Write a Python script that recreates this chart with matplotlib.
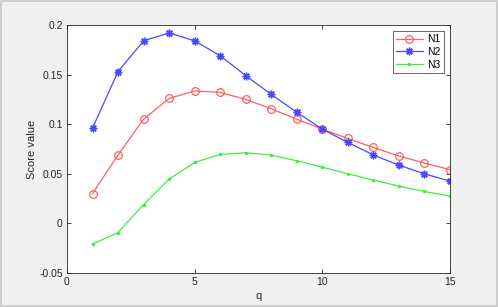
import matplotlib
matplotlib.use("Agg")
import matplotlib.pyplot as plt
from matplotlib.patches import Rectangle

plt.rcParams["font.family"] = ["Liberation Sans", "DejaVu Sans"]

q = list(range(1, 16))
n1 = [0.030, 0.069, 0.105, 0.126, 0.1335, 0.132, 0.125, 0.1155, 0.105, 0.095,
      0.0856, 0.0765, 0.068, 0.0608, 0.0543]
n2 = [0.096, 0.153, 0.184, 0.192, 0.184, 0.169, 0.149, 0.130, 0.112, 0.095,
      0.0816, 0.069, 0.0587, 0.050, 0.0426]
n3 = [-0.0209, -0.0092, 0.019, 0.0446, 0.0614, 0.0695, 0.0712, 0.0689, 0.0631,
      0.0567, 0.050, 0.0437, 0.0376, 0.0322, 0.0275]

fig = plt.figure(figsize=(4.98, 3.07), dpi=100, facecolor="#f0f0f0")
fig.patches.append(Rectangle((0.003, 0.003), 0.994, 0.994, transform=fig.transFigure,
                             fill=False, edgecolor="#c8c8c8", linewidth=1.2))
ax = fig.add_axes([0.1345, 0.1107, 0.769, 0.808])

ax.plot(q, n1, color="#ff6060", marker="o", markersize=5.5, markerfacecolor="none",
        markeredgewidth=0.9, linewidth=0.9, label="N1")
ax.plot(q, n2, color="#4848ff", marker=(8, 2, 0), markersize=5.5,
        markeredgewidth=1.0, linewidth=0.9, label="N2")
ax.plot(q, n3, color="#40ee40", marker=".", markersize=3, linewidth=0.9, label="N3")

ax.set_xlim(0, 15)
ax.set_ylim(-0.05, 0.2)
ax.set_xticks([0, 5, 10, 15])
ax.set_yticks([-0.05, 0, 0.05, 0.1, 0.15, 0.2])
ax.set_yticklabels(["-0.05", "0", "0.05", "0.1", "0.15", "0.2"])
ax.tick_params(direction="in", top=True, right=True, labelsize=7.5,
               colors="#262626", length=3, width=0.6, pad=3)
for s in ax.spines.values():
    s.set_color("#262626")
    s.set_linewidth(0.6)
ax.set_xlabel("q", fontsize=8, color="#262626", labelpad=3)
ax.set_ylabel("Score value", fontsize=8, color="#262626", labelpad=1.5)

leg = ax.legend(loc="upper right", fontsize=7.5, frameon=True, fancybox=False,
                edgecolor="#262626", handlelength=2.6, borderpad=0.3,
                labelspacing=0.25, borderaxespad=0.6, handletextpad=0.4)
leg.get_frame().set_linewidth(0.6)

fig.savefig("out.png", dpi=100, facecolor=fig.get_facecolor())
